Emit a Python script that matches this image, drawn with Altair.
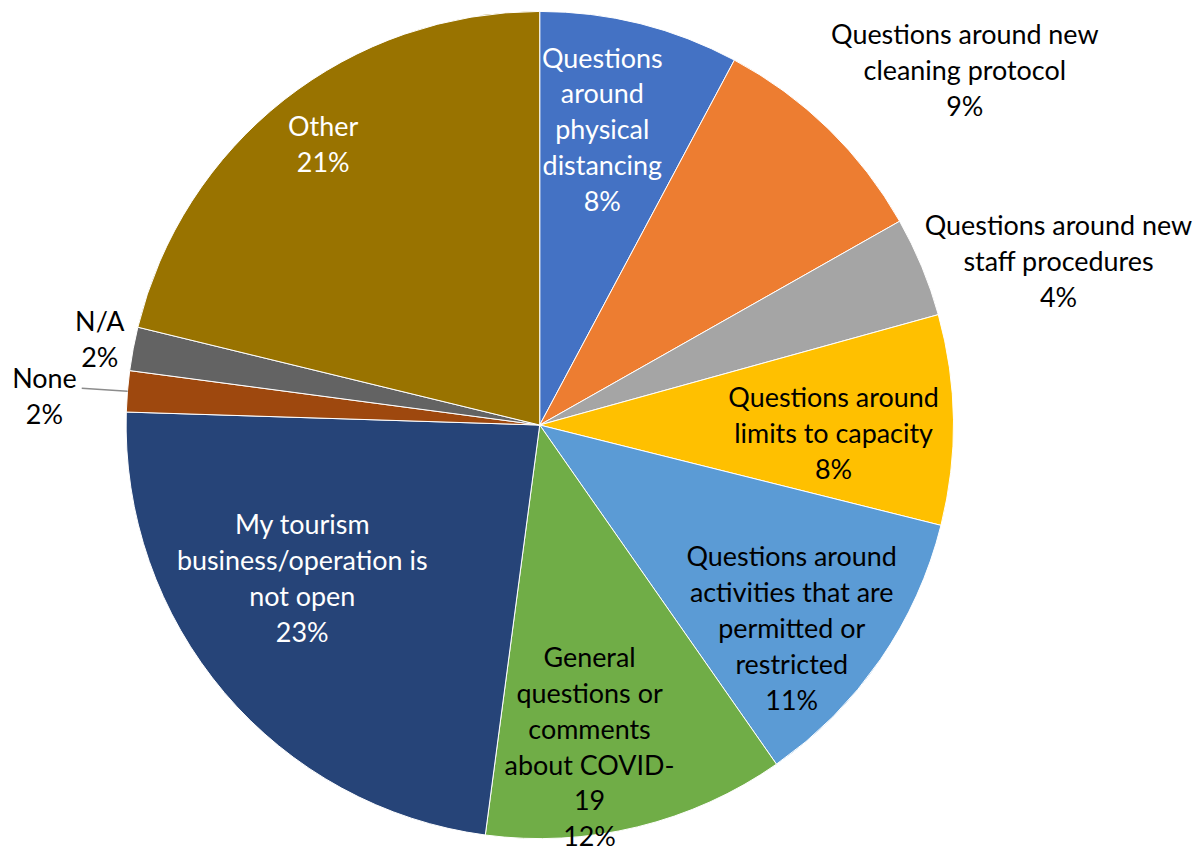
import altair as alt
import pandas as pd

categories = [
    "Questions around physical distancing",
    "Questions around new cleaning protocol",
    "Questions around new staff procedures",
    "Questions around limits to capacity",
    "Questions around activities that are permitted or restricted",
    "General questions or comments about COVID-19",
    "My tourism business/operation is not open",
    "None",
    "N/A",
    "Other",
]
values = [7.8, 9.0, 3.9, 8.2, 11.4, 11.8, 23.4, 1.6, 1.7, 21.2]
label_lines = [
    ["Questions", "around", "physical", "distancing"],
    ["Questions around new", "cleaning protocol"],
    ["Questions around new", "staff procedures"],
    ["Questions around", "limits to capacity"],
    ["Questions around", "activities that are", "permitted or", "restricted"],
    ["General", "questions or", "comments", "about COVID-", "19"],
    ["My tourism", "business/operation is", "not open"],
    ["None"],
    ["N/A"],
    ["Other"],
]
colors = ["#4472C4", "#ED7D31", "#A5A5A5", "#FFC000", "#5B9BD5",
          "#70AD47", "#264478", "#9E480E", "#636363", "#997300"]
white_text = [categories[0], categories[6], categories[9]]

# label layout for the first text line: (angle nudge in value units, radius in px)
label_layout = [(-1.2, 372), (0.91, 578), (0.46, 557), (-1.2, 296), (-1.86, 286),
                (0.46, 240), (4.79, 259), (0.14, 499), (0.66, 453), (0.58, 369)]

total = sum(values)
df = pd.DataFrame({"cat": categories, "value": values, "idx": range(len(values))})
cum = df["value"].cumsum()
df["mid"] = cum - df["value"] / 2 + [n for n, _ in label_layout]
df["lr"] = [r for _, r in label_layout]
df["text"] = [lines + [f"{round(v)}%"] for lines, v in zip(label_lines, values)]

theta_scale = alt.Scale(domain=[0, total])

base = alt.Chart(df)

pie = base.mark_arc(radius=415, stroke="white", strokeWidth=1).encode(
    theta=alt.Theta("value:Q", stack=True, scale=theta_scale),
    color=alt.Color("cat:N", scale=alt.Scale(domain=categories, range=colors), legend=None),
    order=alt.Order("idx:Q"),
)

labels = base.mark_text(font="Lato", fontSize=27, lineHeight=36, align="center",
                        baseline="middle").encode(
    theta=alt.Theta("mid:Q", stack=None, scale=theta_scale),
    radius=alt.Radius("lr:Q", scale=None),
    text="text",
    color=alt.condition(alt.FieldOneOfPredicate(field="cat", oneOf=white_text),
                        alt.value("white"), alt.value("black")),
)

leader = alt.Chart(pd.DataFrame({"a": [0]})).mark_rule(color="#8c8c8c", strokeWidth=1.5).encode(
    x=alt.value(74), x2=alt.value(120), y=alt.value(377), y2=alt.value(380)
)

chart = alt.layer(pie, labels, leader).properties(
    width=1067, height=828, padding=0
).configure_view(stroke=None)

chart.save("out.html", embed_options={"renderer": "svg", "actions": False})
